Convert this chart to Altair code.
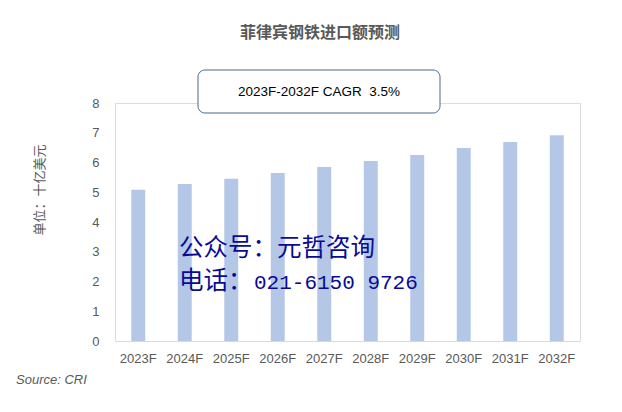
import altair as alt
import pandas as pd

years = ["2023F", "2024F", "2025F", "2026F", "2027F", "2028F", "2029F", "2030F", "2031F", "2032F"]
values = [5.08, 5.28, 5.45, 5.65, 5.85, 6.05, 6.25, 6.49, 6.69, 6.92]

title_text = "菲律宾钢铁进口额预测"
cagr_text = "2023F-2032F CAGR\u00a0\u00a03.5%"
y_title = "单位：十亿美元"
wm1 = "公众号：元哲咨询"
wm2a = "电话："
wm2b = "021-6150 9726"
source_text = "Source: CRI"

df = pd.DataFrame({"year": years, "value": values})
one = pd.DataFrame({"k": [0]})

GRAY = "#595959"
W, H = 465, 238

bars = alt.Chart(df).mark_bar(color="#B4C7E7").encode(
    x=alt.X("year:N", sort=years, title=None,
            scale=alt.Scale(paddingInner=0.7, paddingOuter=0.35),
            axis=alt.Axis(labelAngle=0, ticks=False, domainColor="#D9D9D9", domainWidth=1,
                          labelColor=GRAY, labelFontSize=13, labelFont="Liberation Sans",
                          labelPadding=11)),
    y=alt.Y("value:Q", title=None,
            scale=alt.Scale(domain=[0, 8]),
            axis=alt.Axis(values=list(range(9)), grid=False, domain=False, ticks=False,
                          labelColor=GRAY, labelFontSize=13, labelFont="Liberation Sans",
                          labelPadding=16)),
)

def txt(text, x, y, **kw):
    return alt.Chart(one).mark_text(text=text, **kw).encode(x=alt.value(x), y=alt.value(y))

title = txt(title_text, 205, -70, font="Noto Sans CJK SC", fontSize=16, fontWeight="bold",
            color=GRAY, align="center", baseline="middle")

box = alt.Chart(one).mark_rect(fill="white", stroke="#44698C", strokeWidth=1, cornerRadius=7).encode(
    x=alt.value(83), x2=alt.value(325), y=alt.value(-33), y2=alt.value(10))

cagr = txt(cagr_text, 204, -11, font="Liberation Sans", fontSize=13.5, color="black",
           align="center", baseline="middle")

ytitle = txt(y_title, -75, 87, font="Noto Sans CJK SC", fontSize=13, color=GRAY, angle=270,
             align="center", baseline="middle")

WM = "#0A0A96"
w1 = txt(wm1, 64, 146, font="Noto Sans CJK SC", fontSize=24.5, color=WM,
         align="left", baseline="middle")
w2a = txt(wm2a, 64, 179, font="Noto Sans CJK SC", fontSize=24.5, color=WM,
          align="left", baseline="middle")
w2b = txt(wm2b, 139, 180, font="Liberation Mono", fontSize=21, color=WM,
          align="left", baseline="middle")

src = txt(source_text, -99, 277, font="Liberation Sans", fontSize=13, fontStyle="italic",
          color=GRAY, align="left", baseline="middle")

chart = alt.layer(bars, title, box, cagr, ytitle, w1, w2a, w2b, src).properties(
    width=W, height=H,
    autosize=alt.AutoSizeParams(type="none"),
    padding={"left": 107, "top": 95, "right": 34, "bottom": 63},
).configure_view(stroke=None).configure(background="white")

chart.save("out.html", embed_options={"renderer": "svg", "actions": False})
